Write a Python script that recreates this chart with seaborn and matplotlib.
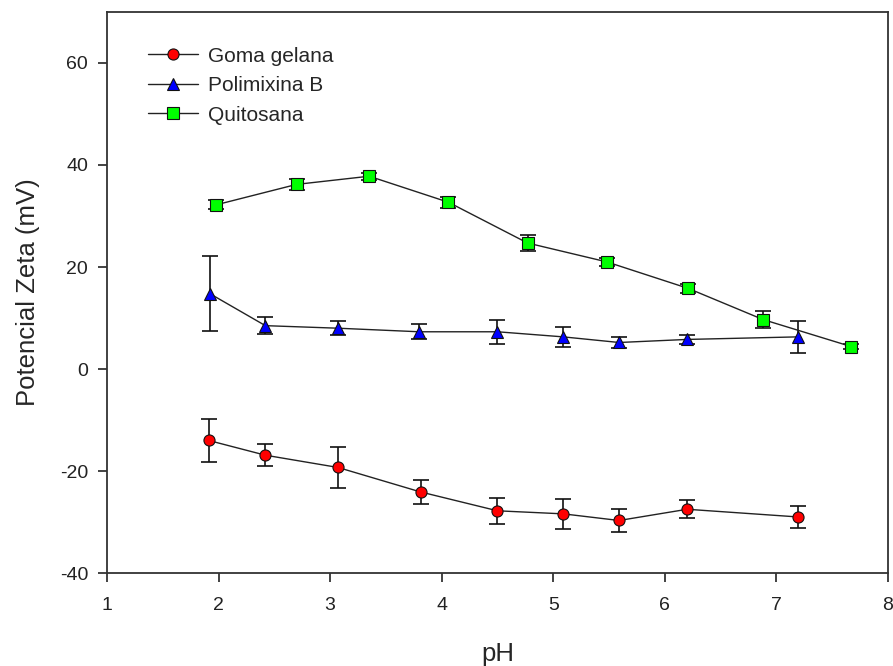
import numpy as np
import pandas as pd
import matplotlib
matplotlib.use("Agg")
import matplotlib.pyplot as plt
import seaborn as sns

# Zeta potential vs pH for three materials (mean ± SD)
ph_goma = [1.91, 2.42, 3.07, 3.81, 4.50, 5.09, 5.59, 6.20, 7.19]
zeta_goma = [-14.0, -16.9, -19.3, -24.1, -27.8, -28.4, -29.7, -27.5, -29.0]
err_goma = [4.2, 2.1, 4.1, 2.4, 2.5, 3.0, 2.2, 1.8, 2.1]

ph_poli = [1.92, 2.42, 3.07, 3.80, 4.50, 5.09, 5.59, 6.20, 7.19]
zeta_poli = [14.8, 8.5, 8.0, 7.3, 7.3, 6.3, 5.2, 5.8, 6.3]
err_poli = [7.4, 1.6, 1.4, 1.5, 2.4, 1.9, 1.0, 0.9, 3.2]

ph_quit = [1.98, 2.70, 3.35, 4.06, 4.77, 5.48, 6.21, 6.88, 7.67]
zeta_quit = [32.2, 36.2, 37.8, 32.7, 24.7, 21.0, 15.8, 9.7, 4.4]
err_quit = [0.9, 1.1, 0.65, 1.1, 1.5, 0.85, 0.8, 1.6, 0.5]

series_names = ["Goma gelana", "Polimixina B", "Quitosana"]
x_ticks = [1, 2, 3, 4, 5, 6, 7, 8]
y_ticks = [-40, -20, 0, 20, 40, 60]

sns.set_style("ticks")
plt.rcParams["font.family"] = ["Liberation Sans", "DejaVu Sans"]
plt.rcParams["axes.unicode_minus"] = False

fig = plt.figure(figsize=(8.93, 6.66), dpi=100)
ax = fig.add_axes([0.1198, 0.1396, 0.8746, 0.8424])

frames = []
for name, xs, ys, es in [
    (series_names[0], ph_goma, zeta_goma, err_goma),
    (series_names[1], ph_poli, zeta_poli, err_poli),
    (series_names[2], ph_quit, zeta_quit, err_quit),
]:
    frames.append(pd.DataFrame({"pH": xs, "zeta": ys, "err": es, "serie": name}))
df = pd.concat(frames, ignore_index=True)

styles = {
    "Goma gelana": dict(marker="o", color="#ff0000", ms=8),
    "Polimixina B": dict(marker="^", color="#0000ff", ms=9),
    "Quitosana": dict(marker="s", color="#00ff00", ms=8),
}

for name in series_names:
    sub = df[df["serie"] == name]
    st = styles[name]
    ax.errorbar(sub["pH"], sub["zeta"], yerr=sub["err"], fmt="none",
                ecolor="#111111", elinewidth=1.2, capsize=5.5, capthick=1.2,
                zorder=2)
    sns.lineplot(data=sub, x="pH", y="zeta", ax=ax, color="#222222",
                 linewidth=1.0, marker=st["marker"], markersize=st["ms"],
                 markerfacecolor=st["color"], markeredgecolor="#111111",
                 markeredgewidth=0.8, label=name, sort=False,
                 estimator=None, zorder=3)

ax.set_xlim(1, 8)
ax.set_ylim(-40, 70)
ax.set_xticks(x_ticks)
ax.set_yticks(y_ticks)
ax.tick_params(axis="both", direction="out", length=6.5, width=1.2,
               labelsize=14, colors="#222222")
ax.tick_params(axis="y", pad=7)
ax.tick_params(axis="x", pad=11)
ax.tick_params(top=False, right=False)
for sp in ax.spines.values():
    sp.set_visible(True)
    sp.set_color("#333333")
    sp.set_linewidth(1.3)

ax.set_xlabel("pH", fontsize=18.5, labelpad=20)
ax.set_ylabel("Potencial Zeta (mV)", fontsize=18.5, labelpad=14)

leg = ax.legend(loc="upper left", bbox_to_anchor=(0.0525, 0.938),
                frameon=False, fontsize=15, handlelength=2.4,
                handletextpad=0.5, labelspacing=0.5, borderpad=0,
                borderaxespad=0)

fig.savefig("out.png", dpi=100)
